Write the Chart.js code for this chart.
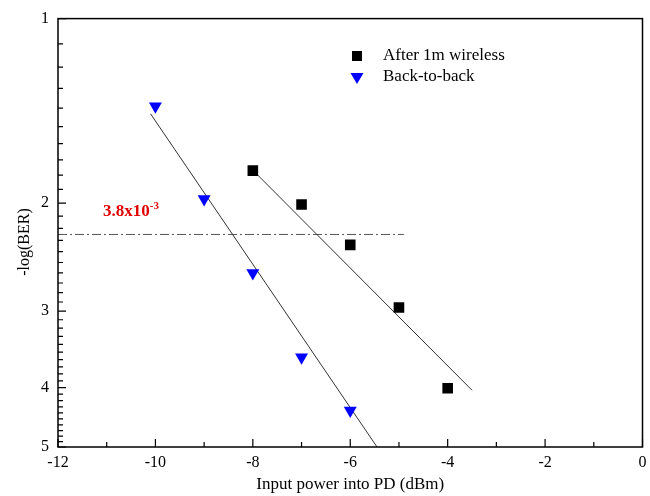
<!DOCTYPE html>
<html>
<head>
<meta charset="utf-8">
<script src="https://cdn.jsdelivr.net/npm/chart.js@4/dist/chart.umd.min.js"></script>
<style>
  html, body { margin: 0; padding: 0; background: #fff; }
  #wrap { width: 650px; height: 496px; }
</style>
</head>
<body>
<div id="wrap"><canvas id="berChart" width="650" height="496"></canvas></div>
<script>
// data
const powerB2B = [-10, -9, -8, -7, -6];
const berB2B = [1.39, 1.97, 2.60, 3.57, 4.36];
const powerWireless = [-8, -7, -6, -5, -4];
const berWireless = [1.77, 2.01, 2.34, 2.96, 4.01];

// linear fits as drawn
const fitB2BX = [-10.1, -5.45];
const fitB2BY = [1.43, 5.0];
const fitWirelessX = [-7.9, -3.5];
const fitWirelessY = [1.80, 4.04];

// FEC threshold line
const thresholdX = [-12, -4.9];
const thresholdY = [2.25, 2.25];

const xTicks = [-12, -10, -8, -6, -4, -2, 0];
const yTicks = [1, 2, 3, 4, 5];

const serif = "'Liberation Serif', 'Times New Roman', serif";

const toPoints = (xs, ys) => xs.map((x, i) => ({ x: x, y: ys[i] }));

// box, inward ticks, legend and threshold label
const decorPlugin = {
  id: 'decor',
  afterDraw(chart) {
    const ctx = chart.ctx;
    const area = chart.chartArea;
    const xs = chart.scales.x;
    const ys = chart.scales.y;
    ctx.save();
    ctx.strokeStyle = '#000';
    ctx.lineWidth = 1.5;
    ctx.strokeRect(area.left, area.top, area.right - area.left, area.bottom - area.top);

    ctx.lineWidth = 1.2;
    ctx.beginPath();
    for (let v = -12; v <= 0; v++) {
      const px = xs.getPixelForValue(v);
      const len = v % 2 === 0 ? 8 : 5;
      ctx.moveTo(px, area.bottom);
      ctx.lineTo(px, area.bottom - len);
    }
    for (let i = 10; i <= 50; i++) {
      const py = ys.getPixelForValue(i / 10);
      const len = i % 10 === 0 ? 8 : 5;
      ctx.moveTo(area.left, py);
      ctx.lineTo(area.left + len, py);
    }
    ctx.stroke();

    // y axis title
    ctx.fillStyle = '#000';
    ctx.font = '16px ' + serif;
    ctx.translate(25, 242);
    ctx.rotate(-Math.PI / 2);
    ctx.textAlign = 'center';
    ctx.textBaseline = 'middle';
    ctx.fillText('-log(BER)', 0, 0);
    ctx.setTransform(1, 0, 0, 1, 0, 0);

    // legend
    const items = [chart.data.datasets[0], chart.data.datasets[1]];
    items.forEach((ds, i) => {
      const cx = 357;
      const cy = 56 + i * 21;
      ctx.fillStyle = ds.backgroundColor;
      ctx.beginPath();
      if (ds.pointStyle === 'rect') {
        ctx.rect(cx - 5, cy - 5, 10, 10);
      } else {
        ctx.moveTo(cx - 6.5, cy - 4);
        ctx.lineTo(cx + 6.5, cy - 4);
        ctx.lineTo(cx, cy + 7);
        ctx.closePath();
      }
      ctx.fill();
      ctx.fillStyle = '#000';
      ctx.font = '17px ' + serif;
      ctx.textAlign = 'left';
      ctx.textBaseline = 'middle';
      ctx.fillText(ds.label, 383, cy);
    });

    // threshold label
    ctx.fillStyle = '#e00000';
    ctx.font = 'bold 17px ' + serif;
    ctx.textAlign = 'left';
    ctx.textBaseline = 'alphabetic';
    const lx = 103;
    const ly = 216;
    ctx.fillText('3.8x10', lx, ly);
    const w = ctx.measureText('3.8x10').width;
    ctx.font = 'bold 11px ' + serif;
    ctx.fillText('-3', lx + w, ly - 7);
    ctx.restore();
  }
};

new Chart(document.getElementById('berChart'), {
  type: 'scatter',
  data: {
    datasets: [
      {
        label: 'After 1m wireless',
        data: toPoints(powerWireless, berWireless),
        pointStyle: 'rect',
        pointRadius: 7.5,
        backgroundColor: '#000',
        borderColor: '#000',
        borderWidth: 0
      },
      {
        label: 'Back-to-back',
        data: toPoints(powerB2B, berB2B),
        pointStyle: 'triangle',
        rotation: 180,
        pointRadius: 7.5,
        backgroundColor: '#0000ff',
        borderColor: '#0000ff',
        borderWidth: 0
      },
      {
        label: 'fit wireless',
        data: toPoints(fitWirelessX, fitWirelessY),
        showLine: true,
        pointRadius: 0,
        borderColor: '#333',
        borderWidth: 1
      },
      {
        label: 'fit b2b',
        data: toPoints(fitB2BX, fitB2BY),
        showLine: true,
        pointRadius: 0,
        borderColor: '#333',
        borderWidth: 1
      },
      {
        label: 'threshold',
        data: toPoints(thresholdX, thresholdY),
        showLine: true,
        pointRadius: 0,
        borderColor: '#555',
        borderWidth: 1,
        borderDash: [9, 3, 2, 3]
      }
    ]
  },
  options: {
    responsive: false,
    animation: false,
    layout: { padding: { top: 17, right: 7, left: 0, bottom: 0 } },
    plugins: {
      legend: { display: false },
      tooltip: { enabled: false }
    },
    scales: {
      x: {
        type: 'linear',
        min: -12,
        max: 0,
        afterBuildTicks: (scale) => { scale.ticks = xTicks.map(v => ({ value: v })); },
        afterFit: (scale) => {
          scale.height = 49;
          scale.paddingRight = 0;
          scale.paddingLeft = 0;
        },
        grid: { display: false, drawTicks: false },
        border: { display: false },
        ticks: { color: '#000', padding: 6, font: { family: serif, size: 16 } },
        title: {
          display: true,
          text: 'Input power into PD (dBm)',
          color: '#000',
          padding: { top: 0, bottom: 1 },
          font: { family: serif, size: 17 }
        }
      },
      y: {
        type: 'logarithmic',
        reverse: true,
        min: 1,
        max: 5,
        afterBuildTicks: (scale) => { scale.ticks = yTicks.map(v => ({ value: v })); },
        afterFit: (scale) => { scale.width = 58; },
        grid: { display: false, drawTicks: false },
        border: { display: false },
        ticks: {
          color: '#000',
          padding: 9,
          font: { family: serif, size: 16 },
          callback: (v) => String(v)
        }
      }
    }
  },
  plugins: [decorPlugin]
});
</script>
</body>
</html>
